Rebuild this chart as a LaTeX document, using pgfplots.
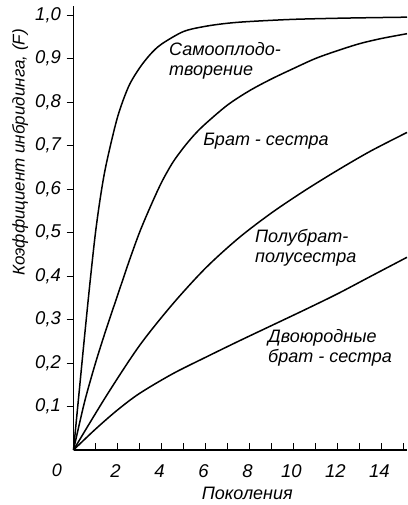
\documentclass[border=0pt]{standalone}
\usepackage{fontspec}
\setmainfont{Liberation Sans}
\usepackage{pgfplots}
\pgfplotsset{compat=1.18}
\begin{document}
\begin{tikzpicture}
\useasboundingbox (0,0) rectangle (407pt,505pt);
\begin{axis}[
  at={(73.5pt,55pt)}, anchor=south west,
  scale only axis, width=333.5pt, height=443.7pt,
  xmin=0, xmax=15.16, ymin=0, ymax=1.02,
  axis x line=bottom, axis y line=left,
  axis line style={-, line width=1.3pt},
  xtick={2,4,...,14}, minor xtick={1,3,...,15},
  ytick={0.1,0.2,...,1.0},
  xtick align=inside, ytick align=outside,
  major tick length=7pt, minor tick length=7pt,
  tick style={line width=0.9pt, black},
  minor tick style={line width=0.9pt, black},
  /pgf/number format/assume math mode=true,
  /pgf/number format/use comma,
  yticklabel style={/pgf/number format/fixed, /pgf/number format/fixed zerofill, /pgf/number format/precision=1},
  ticklabel style={font=\fontsize{18.5}{21}\selectfont\itshape},
  xticklabel style={anchor=base, yshift=-27pt, xshift=-2pt},
  yticklabel style={anchor=east, xshift=-2pt},
  clip=false,
]
\pgfplotsset{curve/.style={line width=1.5pt, black, smooth, tension=0.5, no marks}}
% self-fertilisation
\addplot[curve] coordinates {(0,0) (0.25,0.13) (0.5,0.26) (0.75,0.385) (1,0.5) (1.25,0.59) (1.5,0.66) (2,0.765) (2.5,0.835) (3,0.878) (3.5,0.91) (4,0.933) (5,0.962) (6,0.974) (7,0.981) (8,0.985) (10,0.99) (12.5,0.993) (15.16,0.995)};
% full sibs
\addplot[curve] coordinates {(0,0) (0.5,0.11) (1,0.2) (1.5,0.28) (2,0.355) (2.5,0.43) (3,0.5) (3.5,0.56) (4,0.615) (4.5,0.66) (5,0.695) (5.5,0.725) (6,0.75) (7,0.793) (8,0.826) (9,0.853) (10,0.877) (11,0.9) (12,0.918) (13,0.934) (14,0.946) (15.16,0.957)};
% half sibs
\addplot[curve] coordinates {(0,0) (1.5,0.125) (3,0.24) (4.5,0.335) (6,0.418) (7.5,0.487) (9,0.545) (10.5,0.596) (12,0.643) (13.5,0.687) (15.16,0.73)};
% first cousins
\addplot[curve] coordinates {(0,0) (1,0.048) (2,0.092) (3,0.13) (4.5,0.175) (6,0.213) (7.5,0.25) (9,0.286) (10.5,0.322) (12,0.359) (13.5,0.399) (15.16,0.443)};
\begin{scope}[every node/.style={font=\fontsize{18}{20}\selectfont\itshape, inner sep=0pt, align=left}]
\node[anchor=west] at (axis cs:4.34,0.894) {Самооплодо-\\творение};
\node[anchor=west] at (axis cs:5.89,0.710) {Брат - сестра};
\node[anchor=west] at (axis cs:8.25,0.464) {Полубрат-\\полусестра};
\node[anchor=west] at (axis cs:8.84,0.234) {Двоюродные\\брат - сестра};
\node[anchor=base] at (axis cs:7.9,-0.113) {Поколения};
\node[anchor=base] at (axis cs:-0.75,-0.062) {0};
\node[rotate=90, font=\fontsize{17}{20}\selectfont\itshape] at (axis cs:-2.43,0.684) {Коэффициент инбридинга, (F)};
\end{scope}
\end{axis}
\end{tikzpicture}
\end{document}
